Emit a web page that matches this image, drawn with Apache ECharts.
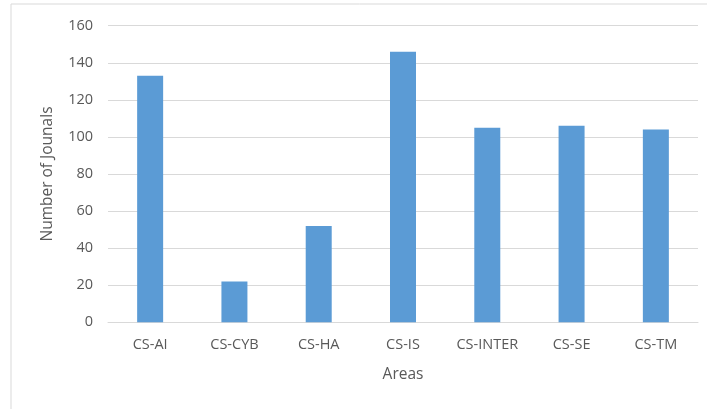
<!DOCTYPE html>
<html><head><meta charset="utf-8">
<script src="https://cdn.jsdelivr.net/npm/echarts@6/dist/echarts.min.js"></script>
<style>html,body{margin:0;padding:0;background:#fff}#c{width:707px;height:409px}</style>
</head><body><div id="c"></div>
<script>
const categories = ['CS-AI','CS-CYB','CS-HA','CS-IS','CS-INTER','CS-SE','CS-TM'];
const journals = [133, 22, 52, 146, 105, 106, 104];
const yTicks = {min: 0, max: 160, interval: 20};
const xTitle = 'Areas';
const yTitle = 'Number of Jounals';

const chart = echarts.init(document.getElementById('c'), null, {renderer: 'canvas'});
const font = '"Open Sans", "Noto Sans", sans-serif';
chart.setOption({
  animation: false,
  backgroundColor: '#fff',
  graphic: [{
    type: 'rect', shape: {x: 11, y: 4, width: 720, height: 430},
    style: {fill: 'none', stroke: '#D9D9D9', lineWidth: 1}, silent: true, z: -1
  }],
  grid: {left: 108, right: 9, top: 25.7, bottom: 86.7, containLabel: false},
  xAxis: {
    type: 'category', data: categories,
    name: xTitle, nameLocation: 'middle', nameGap: 44,
    nameTextStyle: {color: '#595959', fontSize: 15.5, fontFamily: font},
    axisLine: {show: true, lineStyle: {color: '#D9D9D9', width: 1}},
    axisTick: {show: false},
    axisLabel: {color: '#595959', fontSize: 14.5, fontFamily: font, margin: 15}
  },
  yAxis: {
    type: 'value', min: yTicks.min, max: yTicks.max, interval: yTicks.interval,
    name: yTitle, nameLocation: 'middle', nameGap: 52,
    nameTextStyle: {color: '#595959', fontSize: 15.5, fontFamily: font},
    axisLine: {show: false}, axisTick: {show: false},
    axisLabel: {color: '#595959', fontSize: 14.5, fontFamily: font, margin: 15},
    splitLine: {lineStyle: {color: '#D9D9D9', width: 1}}
  },
  series: [{
    type: 'bar', data: journals, barWidth: 26,
    itemStyle: {color: '#5B9BD5'}
  }]
});
</script></body></html>
